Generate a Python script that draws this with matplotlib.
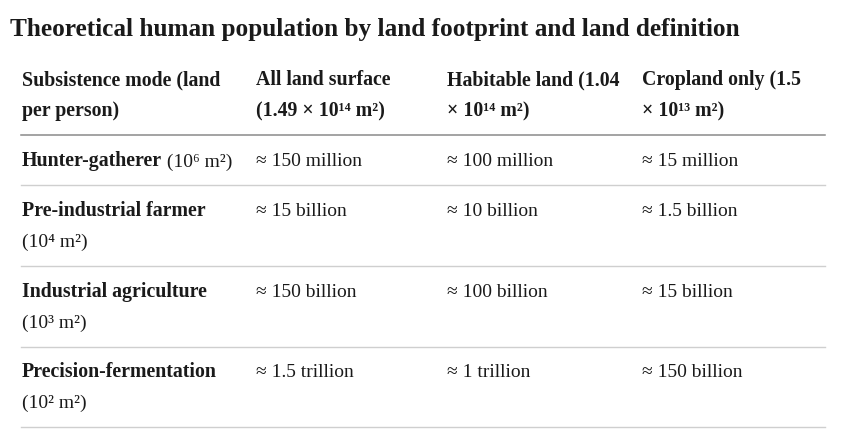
"""
Tabela: populacao humana teorica por area de terra por pessoa e definicao de terra.
Desenhada com matplotlib num eixo em coordenadas de pixel.
"""

import matplotlib.pyplot as plt

TITLE = "Theoretical human population by land footprint and land definition"

HEADERS = [
    ["Subsistence mode (land", "per person)"],
    ["All land surface", "(1.49 × 10¹⁴ m²)"],
    ["Habitable land (1.04", "× 10¹⁴ m²)"],
    ["Cropland only (1.5", "× 10¹³ m²)"],
]

ROW_NAMES = [
    "Hunter-gatherer",
    "Pre-industrial farmer",
    "Industrial agriculture",
    "Precision-fermentation",
]
ROW_UNITS = ["(10⁶ m²)", "(10⁴ m²)", "(10³ m²)", "(10² m²)"]
UNIT_SAME_LINE = [True, False, False, False]

ALL_LAND = ["≈ 150 million", "≈ 15 billion", "≈ 150 billion", "≈ 1.5 trillion"]
HABITABLE = ["≈ 100 million", "≈ 10 billion", "≈ 100 billion", "≈ 1 trillion"]
CROPLAND = ["≈ 15 million", "≈ 1.5 billion", "≈ 15 billion", "≈ 150 billion"]

FONT = ["Liberation Serif", "DejaVu Serif"]
TEXT_COLOR = "#1a1a1a"


def main():
    plt.rcParams["font.family"] = FONT

    fig = plt.figure(figsize=(8.44, 4.44), dpi=100)
    ax = fig.add_axes([0, 0, 1, 1])
    ax.set_xlim(0, 844)
    ax.set_ylim(444, 0)
    ax.axis("off")

    col_x = [22, 256, 447, 642]
    line_x0, line_x1 = 21, 825
    bold_size = 14.3
    reg_size = 14
    line_gap = 31

    ax.text(10, 36, TITLE, fontsize=18.2, fontweight="bold",
            color=TEXT_COLOR, va="baseline")

    # cabecalho
    for x, lines in zip(col_x, HEADERS):
        for i, s in enumerate(lines):
            ax.text(x, 85 + i * line_gap, s, fontsize=bold_size,
                    fontweight="bold", color=TEXT_COLOR, va="baseline")
    ax.plot([line_x0, line_x1], [135, 135], color="#8a8a8a", lw=1.1)

    row_base = [166, 216, 297, 377]
    row_lines = [185, 266, 347, 427]
    values = [ALL_LAND, HABITABLE, CROPLAND]

    for r, name in enumerate(ROW_NAMES):
        y = row_base[r]
        t = ax.text(col_x[0], y, name, fontsize=bold_size, fontweight="bold",
                    color=TEXT_COLOR, va="baseline")
        if UNIT_SAME_LINE[r]:
            ax.annotate(" " + ROW_UNITS[r], xy=(1, 0), xycoords=t,
                        fontsize=reg_size, color=TEXT_COLOR, va="bottom")
        else:
            ax.text(col_x[0], y + line_gap, ROW_UNITS[r], fontsize=reg_size,
                    color=TEXT_COLOR, va="baseline")
        for c, col_vals in enumerate(values):
            ax.text(col_x[c + 1], y, col_vals[r], fontsize=reg_size,
                    color=TEXT_COLOR, va="baseline")
        ax.plot([line_x0, line_x1], [row_lines[r]] * 2, color="#cfcfcf", lw=1.0)

    fig.savefig("out.png", dpi=100)


if __name__ == "__main__":
    main()
